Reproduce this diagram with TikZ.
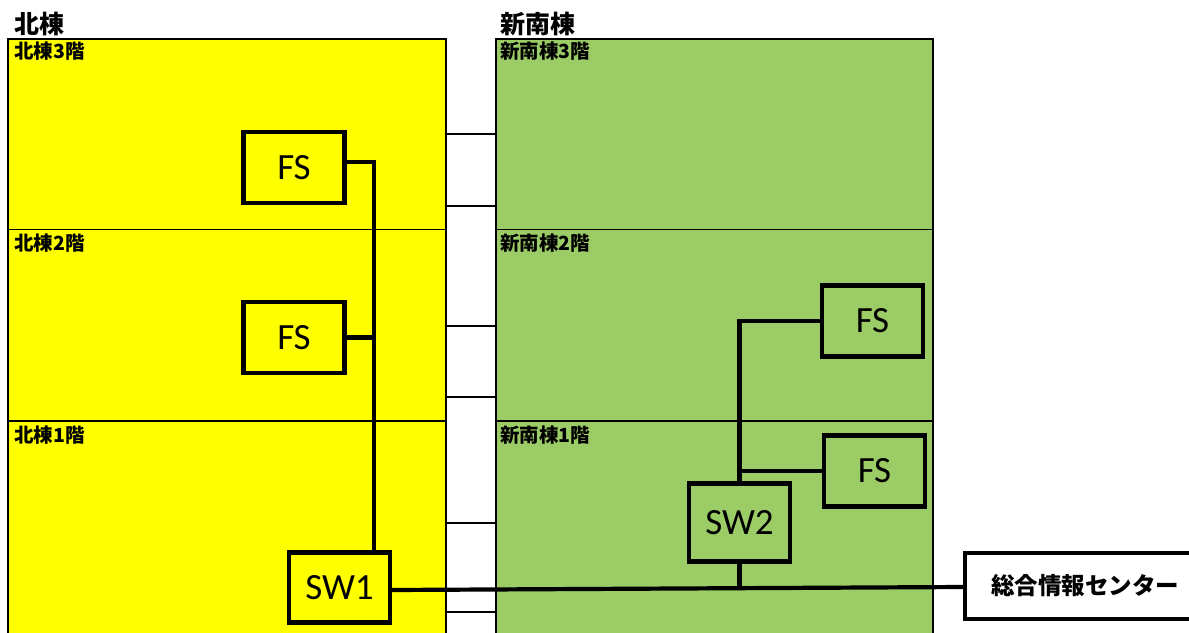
\documentclass[tikz,border=0pt]{standalone}
\usepackage{fontspec}
\newfontfamily\jpfont{Noto Sans CJK JP}
\newfontfamily\calibfont{Carlito}
\definecolor{nyellow}{RGB}{255,255,0}
\definecolor{sgreen}{RGB}{155,204,102}
\begin{document}
\begin{tikzpicture}[x=1pt,y=-1pt,
  wall/.style={draw=black, line width=1.8pt},
  floorline/.style={draw=black, line width=1.2pt},
  bridge/.style={draw=black, line width=1.5pt},
  device/.style={draw=black, line width=4.2pt, inner sep=0pt, minimum width=101pt, minimum height=71pt,
    font=\calibfont\fontsize{37}{37}\selectfont},
  link/.style={draw=black, line width=4.2pt},
  heading/.style={anchor=west, inner sep=0pt, font=\jpfont\bfseries\fontsize{25}{25}\selectfont},
  floorlabel/.style={anchor=west, inner sep=0pt, font=\jpfont\bfseries\fontsize{19.5}{19.5}\selectfont},
  centrebox/.style={draw=black, line width=4.2pt, fill=white, inner sep=0pt, minimum width=240pt, minimum height=66pt,
    font=\jpfont\bfseries\fontsize{23.5}{23.5}\selectfont}]
\useasboundingbox (0,0) rectangle (1189,632);
\clip (0,0) rectangle (1189,632);
\fill[white] (0,0) rectangle (1189,632);
% buildings
\fill[nyellow] (8,39) rectangle (446,650);
\fill[sgreen] (496,39) rectangle (933,650);
\draw[floorline] (8,229.5) -- (446,229.5) (8,421) -- (446,421);
\draw[floorline] (496,229.5) -- (933,229.5) (496,421) -- (933,421);
\draw[wall] (8,650) -- (8,39) -- (446,39) -- (446,650);
\draw[wall] (496,650) -- (496,39) -- (933,39) -- (933,650);
% bridges
\foreach \yy in {134,206,326,397,523,612}
  \draw[bridge] (446,\yy) -- (496,\yy);
% labels
\node[heading] (hN) at (14,24) {北棟};
\node[heading] (hS) at (500,24) {新南棟};
\node[floorlabel] (n3) at (14,51) {北棟3階};
\node[floorlabel] (n2) at (14,243) {北棟2階};
\node[floorlabel] (n1) at (14,435) {北棟1階};
\node[floorlabel] (s3) at (500,51) {新南棟3階};
\node[floorlabel] (s2) at (500,243) {新南棟2階};
\node[floorlabel] (s1) at (500,435) {新南棟1階};
% devices
\node[device] (FS3) at (294,167.5) {FS};
\node[device] (FS2) at (294,337.5) {FS};
\node[device, minimum height=70pt] (SW1) at (339.5,587.5) {SW1};
\node[device, minimum height=71pt] (FSa) at (872.5,321) {FS};
\node[device, minimum height=71pt] (FSb) at (874.5,471) {FS};
\node[device, minimum height=78pt] (SW2) at (739.5,522.5) {SW2};
\node[centrebox] (centre) at (1085,586) {総合情報センター};
% connectors
\coordinate (nt) at (374,162);
\draw[link] ([yshift=5.5pt]FS3.east) -- (nt) -- (nt |- SW1.north);
\draw[link] (FS2.east) -- (FS2.east -| nt);
\draw[link] (FSa.west) -- (FSa.west -| SW2.north) -- (SW2.north);
\draw[link] (FSb.west) -- (FSb.west -| SW2.north);
\coordinate (j) at (739.5,588);
\draw[link] (SW2.south) -- (j);
\draw[link] ([yshift=-2.5pt]SW1.east) -- ([yshift=-1pt]centre.west);
\end{tikzpicture}
\end{document}
